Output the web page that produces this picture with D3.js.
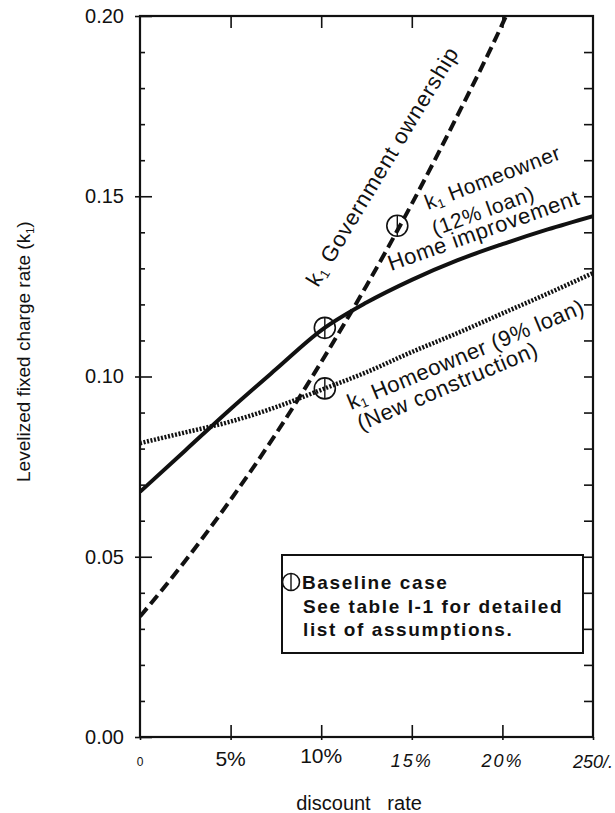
<!DOCTYPE html>
<html><head><meta charset="utf-8">
<script src="https://cdn.jsdelivr.net/npm/d3@7"></script>
<style>
body{margin:0;background:#fff}
svg{display:block}
text{font-family:"Liberation Sans",Arial,Helvetica,sans-serif;fill:#111}
</style>
</head><body>
<svg id="c" width="615" height="813"></svg>
<script>
// ---- data ----
const rates = [0, 2.5, 5, 7.5, 10, 12.5, 15, 17.5, 20, 22.5, 25];
const homeImprovement = [0.068, 0.0795, 0.091, 0.102, 0.1128, 0.1205, 0.1268, 0.1322, 0.1367, 0.1408, 0.1445];
const newConstruction = [0.0815, 0.0845, 0.0875, 0.0915, 0.0963, 0.1012, 0.1068, 0.112, 0.1175, 0.123, 0.1287];
const govRates = [0, 2.5, 5, 7.5, 10, 12.5, 15, 17.5, 20, 20.2];
const govOwnership = [0.0334, 0.0489, 0.0658, 0.0841, 0.104, 0.1252, 0.1479, 0.1722, 0.1978, 0.2];
const baselineX = [10.2, 10.2, 14.2];
const baselineY = [0.1135, 0.0967, 0.1418];
const xTicks = [0, 5, 10, 15, 20, 25];
const xTickLabels = ["0", "5%", "10%", "15%", "20%", "250/."];
const yTicks = [0, 0.05, 0.1, 0.15, 0.2];
const yTickLabels = ["0.00", "0.05", "0.10", "0.15", "0.20"];
const yMinorTicks = d3.range(1, 20).map(i => i / 100).filter(v => Math.round(v * 100) % 5 !== 0);
const yAllTicks = d3.range(1, 20).map(i => i / 100);

const svg = d3.select("#c");
const L = 140, R = 593, T = 16, B = 737;
const x = d3.scaleLinear().domain([0, 25]).range([L, R]);
const y = d3.scaleLinear().domain([0, 0.2]).range([B, T]);

svg.append("defs").append("clipPath").attr("id", "clip")
  .append("rect").attr("x", L).attr("y", T).attr("width", R - L).attr("height", B - T);

function styleAxis(g) {
  g.select(".domain").remove();
  g.selectAll(".tick line").attr("stroke", "#111").attr("stroke-width", 1.6);
}

// left axis: minor inward, major crossing
svg.append("g").attr("transform", `translate(${L},0)`)
  .call(d3.axisLeft(y).tickValues(yMinorTicks).tickSize(-5).tickFormat(""))
  .call(styleAxis);
svg.append("g").attr("transform", `translate(${L},0)`)
  .call(d3.axisLeft(y).tickValues(yTicks).tickSize(-12).tickFormat(""))
  .call(styleAxis);
const yl = svg.append("g").attr("transform", `translate(${L},0)`)
  .call(d3.axisLeft(y).tickValues(yTicks).tickSize(5).tickPadding(11)
    .tickFormat((d, i) => yTickLabels[i]))
  .call(styleAxis);
yl.selectAll(".tick text").attr("font-size", 20).attr("fill", "#111")
  .attr("font-family", '"Liberation Sans",Arial,sans-serif');

// right axis
svg.append("g").attr("transform", `translate(${R},0)`)
  .call(d3.axisRight(y).tickValues(yAllTicks).tickSize(-9).tickFormat(""))
  .call(styleAxis);

// top axis
svg.append("g").attr("transform", `translate(0,${T})`)
  .call(d3.axisTop(x).tickValues(xTicks.slice(1, 5)).tickSize(-12).tickFormat(""))
  .call(styleAxis);

// bottom axis
svg.append("g").attr("transform", `translate(0,${B})`)
  .call(d3.axisBottom(x).tickValues(xTicks.slice(1, 5)).tickSize(-12).tickFormat(""))
  .call(styleAxis);
svg.append("g").attr("transform", `translate(0,${B})`)
  .call(d3.axisBottom(x).tickValues(xTicks).tickSize(3).tickFormat(""))
  .call(styleAxis);

// frame
svg.append("rect").attr("x", L).attr("y", T).attr("width", R - L).attr("height", B - T)
  .attr("fill", "none").attr("stroke", "#111").attr("stroke-width", 2.2);

// x tick labels (mixed typography as in the scan)
const xStyles = [
  {ff: '"Liberation Sans",Arial,sans-serif', fs: 12, fw: 400, st: "normal", ls: 0, dy: 766},
  {ff: '"Liberation Sans",Arial,sans-serif', fs: 21, fw: 400, st: "normal", ls: 0, dy: 766},
  {ff: 'Roboto,"Liberation Sans",sans-serif', fs: 21, fw: 300, st: "normal", ls: 0, dy: 763},
  {ff: '"Liberation Sans",Arial,sans-serif', fs: 18, fw: 400, st: "italic", ls: 2, dy: 767},
  {ff: '"Liberation Sans",Arial,sans-serif', fs: 18, fw: 400, st: "italic", ls: 2, dy: 767},
  {ff: '"Liberation Sans",Arial,sans-serif', fs: 18, fw: 400, st: "italic", ls: 0, dy: 768}
];
svg.append("g").selectAll("text").data(xTicks).join("text")
  .attr("x", d => x(d)).attr("y", (d, i) => xStyles[i].dy)
  .attr("text-anchor", "middle")
  .attr("font-family", (d, i) => xStyles[i].ff)
  .attr("font-size", (d, i) => xStyles[i].fs)
  .attr("font-weight", (d, i) => xStyles[i].fw)
  .attr("font-style", (d, i) => xStyles[i].st)
  .attr("letter-spacing", (d, i) => xStyles[i].ls)
  .text((d, i) => xTickLabels[i]);

// axis titles
svg.append("text").attr("x", 359).attr("y", 810).attr("text-anchor", "middle")
  .attr("font-size", 20).attr("xml:space", "preserve").style("white-space", "pre")
  .text("discount   rate");
const yt = svg.append("text").attr("transform", "translate(30,482) rotate(-90)")
  .attr("font-size", 19);
yt.append("tspan").text("Levelized fixed charge rate (k");
yt.append("tspan").attr("font-size", 11).attr("dy", 4).text("1");
yt.append("tspan").attr("dy", -4).text(")");

// curves
const line = d3.line().curve(d3.curveMonotoneX);
const plot = svg.append("g").attr("clip-path", "url(#clip)");
plot.append("path")
  .attr("d", line(rates.map((r, i) => [x(r), y(newConstruction[i])])))
  .attr("fill", "none").attr("stroke", "#111").attr("stroke-width", 4.5)
  .attr("stroke-dasharray", "2,1.6");
plot.append("path")
  .attr("d", line(govRates.map((r, i) => [x(r), y(govOwnership[i])])))
  .attr("fill", "none").attr("stroke", "#111").attr("stroke-width", 4)
  .attr("stroke-dasharray", "11,5.5");
plot.append("path")
  .attr("d", line(rates.map((r, i) => [x(r), y(homeImprovement[i])])))
  .attr("fill", "none").attr("stroke", "#111").attr("stroke-width", 4);

// baseline markers
const mk = svg.append("g").selectAll("g").data(baselineX).join("g")
  .attr("transform", (d, i) => `translate(${x(d)},${y(baselineY[i])})`);
mk.append("circle").attr("r", 10.5).attr("fill", "none").attr("stroke", "#111").attr("stroke-width", 1.6);
mk.append("line").attr("y1", -10.5).attr("y2", 10.5).attr("stroke", "#111").attr("stroke-width", 1.4);

// curve labels
function kLabel(tx, ty, ang, rest, fs, ls) {
  const t = svg.append("text").attr("transform", `translate(${tx},${ty}) rotate(${ang})`)
    .attr("font-size", fs).attr("letter-spacing", ls).attr("xml:space", "preserve");
  t.append("tspan").text("k");
  t.append("tspan").attr("font-size", fs * 0.6).attr("dy", 3).text("1");
  t.append("tspan").attr("dy", -3).text(rest);
}
function plainLabel(tx, ty, ang, txt, fs, ls) {
  svg.append("text").attr("transform", `translate(${tx},${ty}) rotate(${ang})`)
    .attr("font-size", fs).attr("letter-spacing", ls).text(txt);
}
kLabel(318, 288, -59, " Government ownership", 22, 1.0);
kLabel(428, 210, -21, " Homeowner", 21, 0.6);
plainLabel(435, 236, -20, "(12% loan)", 21, 0.6);
plainLabel(391, 271, -19.5, "Home improvement", 22, 0.6);
kLabel(351, 410, -22.5, " Homeowner (9% loan)", 22, 0.5);
plainLabel(361, 431, -23, "(New construction)", 22, 0.6);

// legend box
svg.append("rect").attr("x", 282).attr("y", 555).attr("width", 301).attr("height", 98)
  .attr("fill", "#fff").attr("stroke", "#111").attr("stroke-width", 2);
const lg = svg.append("g").attr("transform", "translate(291,582)");
lg.append("circle").attr("r", 8.5).attr("fill", "none").attr("stroke", "#111").attr("stroke-width", 1.6);
lg.append("line").attr("y1", -8.5).attr("y2", 8.5).attr("stroke", "#111").attr("stroke-width", 1.4);
const legendLines = ["Baseline case", "See table I-1 for detailed", "list of assumptions."];
const legendY = [589, 613, 636];
const legendX = [302, 303, 303];
svg.append("g").selectAll("text").data(legendLines).join("text")
  .attr("x", (d, i) => legendX[i]).attr("y", (d, i) => legendY[i])
  .attr("font-size", 19).attr("font-weight", 700).attr("letter-spacing", 1.6)
  .text(d => d);
</script>
</body></html>
